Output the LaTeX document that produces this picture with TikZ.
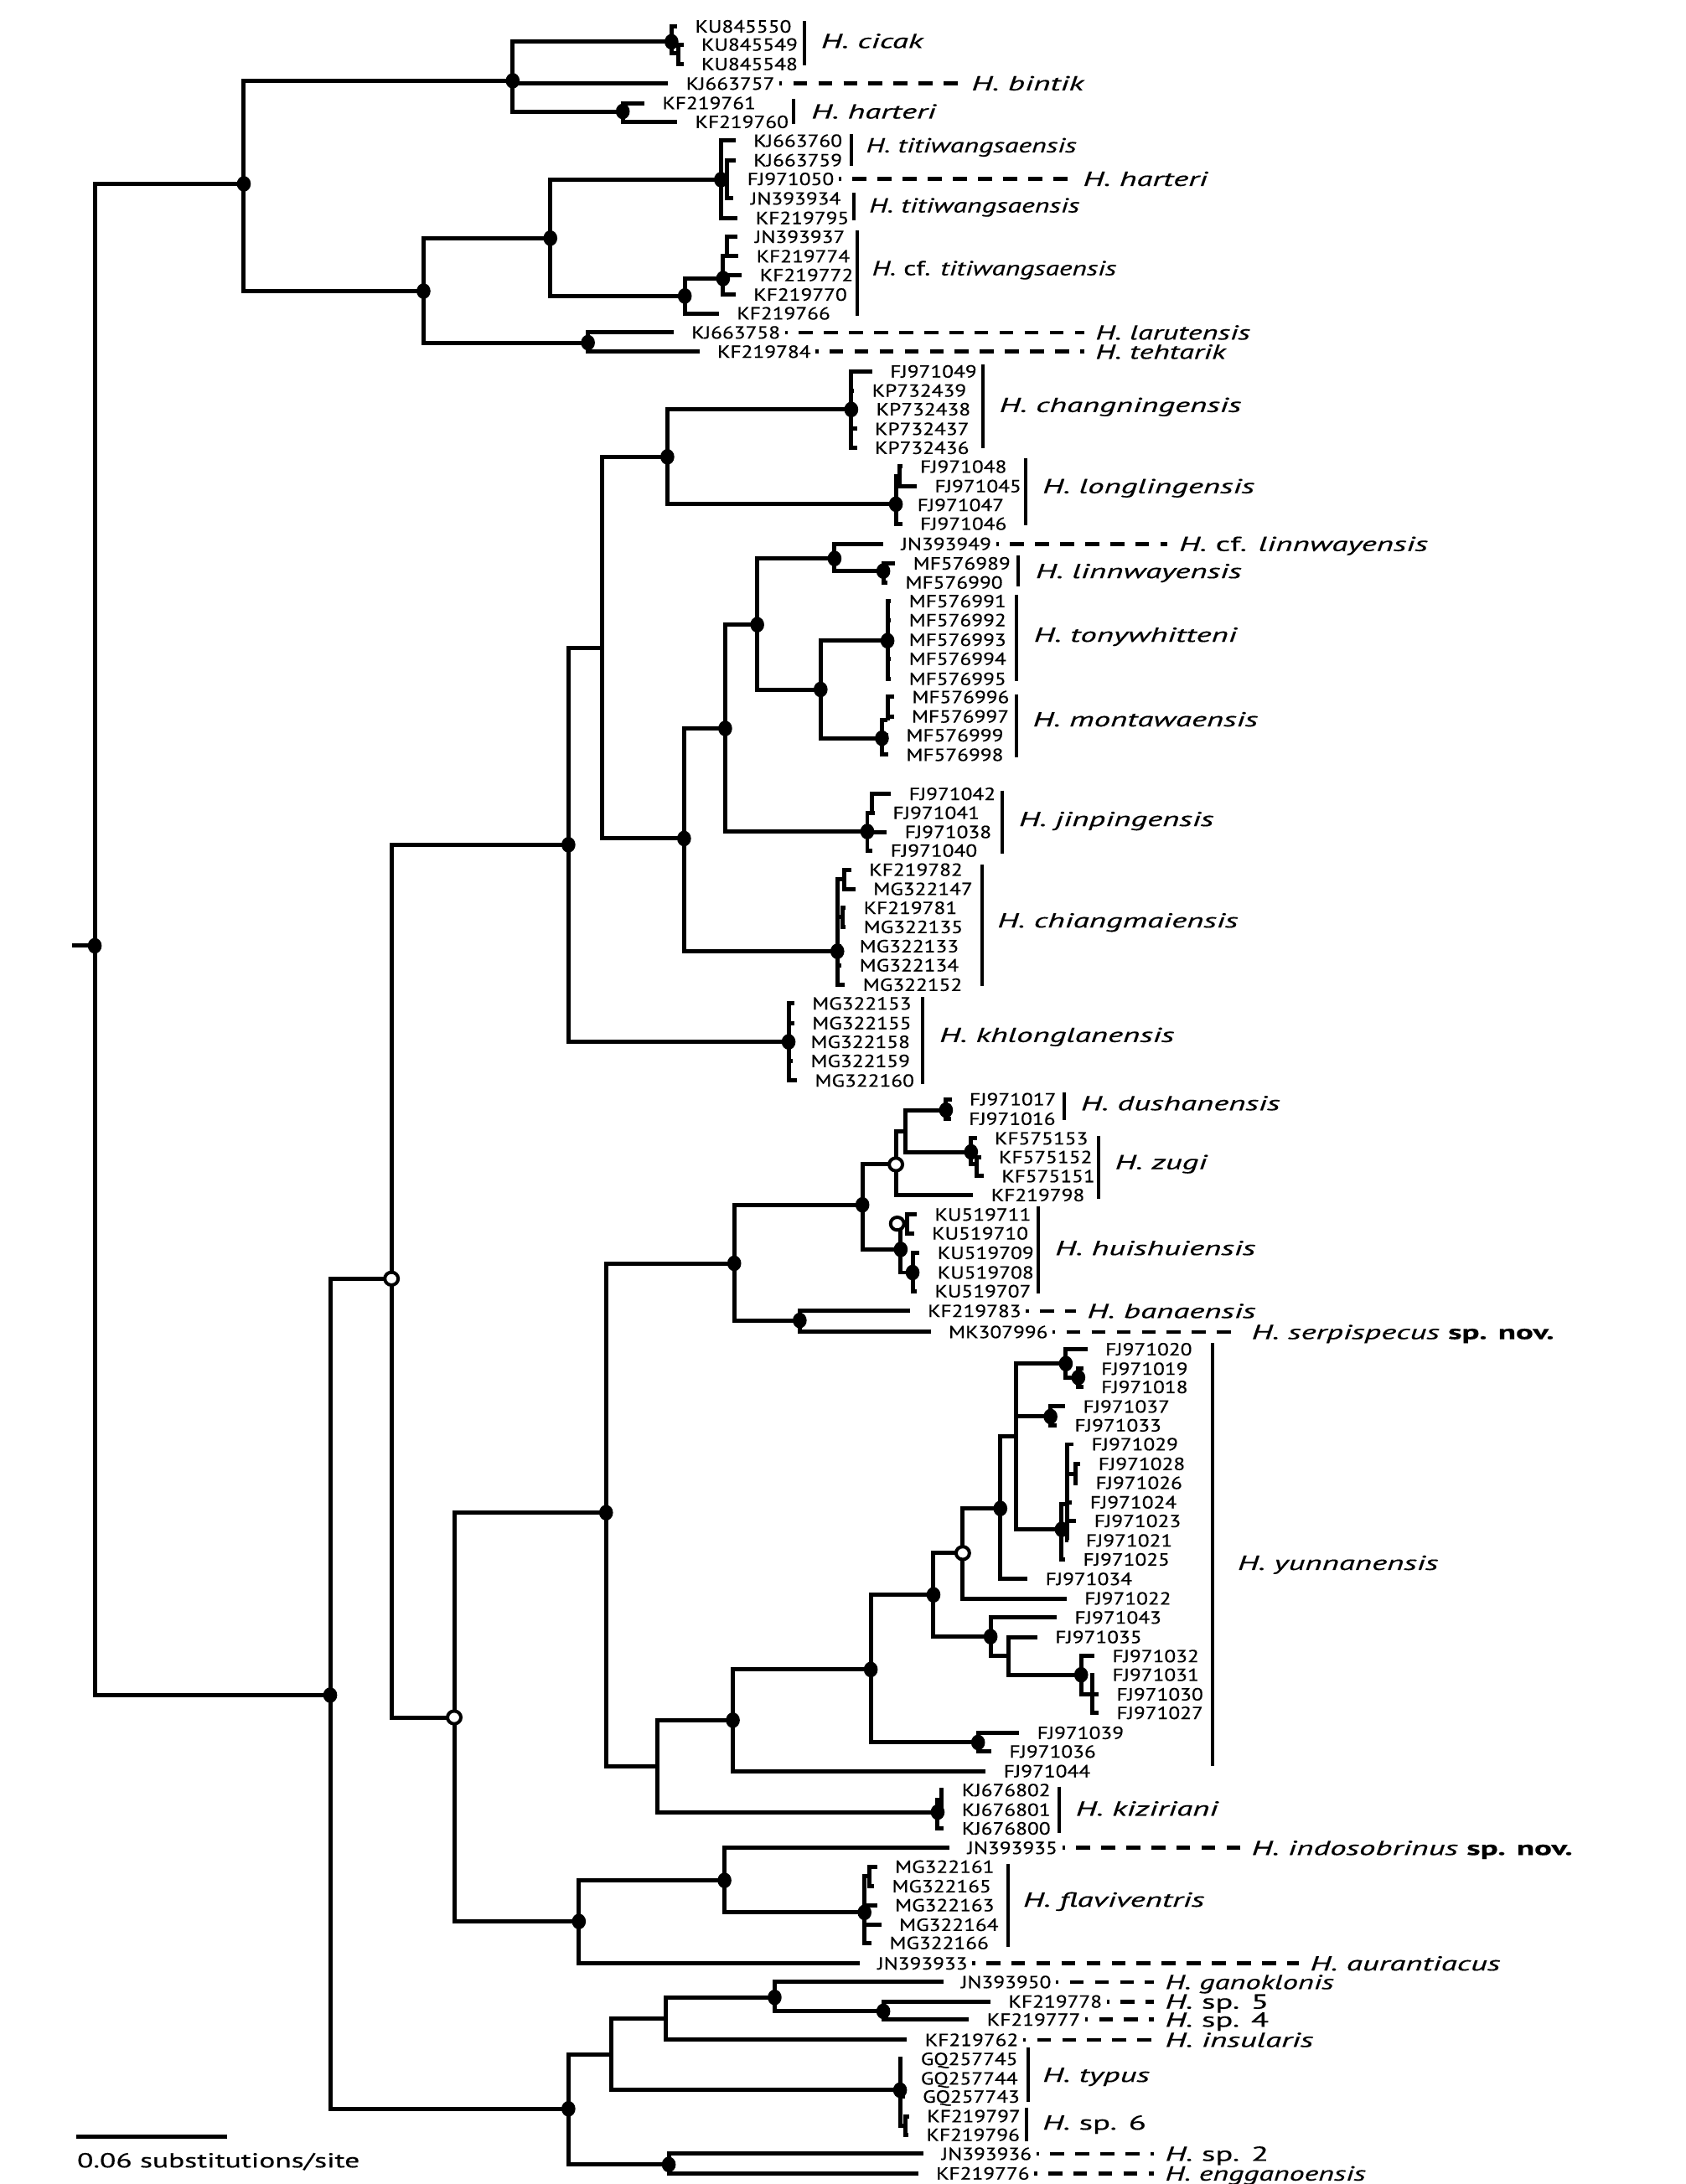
\documentclass[tikz,border=0pt]{standalone}
\usepackage{fontspec}
\usepackage{graphicx}
\setmainfont{PT Sans}[FakeBold=0.4]
\usetikzlibrary{shapes.geometric}
\newcommand\A[1]{\scalebox{1.21}[1]{#1}}
\newcommand\SpN[2][1.6]{\scalebox{#1}[1]{#2}}
\newcommand\leaf[3]{\coordinate (#1) at (#2,#3); \node[acc] (#1-l) at (#2+12.5,#3) {\A{#1}};}
\begin{document}
\begin{tikzpicture}[x=0.5pt,y=-0.5pt,
  br/.style={line width=1.5pt, line join=miter},
  barline/.style={line width=1.2pt},
  dsh/.style={line width=1.4pt, dash pattern=on 5pt off 4pt, dash phase=4pt, shorten <=1.5pt, shorten >=4pt},
  dotf/.style={ellipse, fill=black, inner sep=0pt, minimum width=5pt, minimum height=5.6pt},
  dotw/.style={ellipse, draw=black, fill=white, line width=1.2pt, inner sep=0pt, minimum width=4.8pt, minimum height=4.6pt},
  acc/.style={anchor=base west, inner sep=0pt, yshift=-2.2pt, font=\fontsize{6.3}{7}\selectfont},
  spn/.style={anchor=base west, inner sep=0pt, yshift=-2.55pt, font=\fontsize{7.3}{8}\selectfont}]
\path[fill=white, use as bounding box] (0,0) rectangle (1210,1568);
% internal nodes
\coordinate (R0) at (52,679);
\coordinate (R) at (68,679);
\coordinate (T) at (175,132);
\coordinate (TA) at (368,58);
\coordinate (cic) at (482,30);
\coordinate (cic2) at (487,38);
\coordinate (hart) at (447,80);
\coordinate (TB) at (304,209);
\coordinate (TBa) at (395,171);
\coordinate (tit) at (517.5,129);
\coordinate (tits) at (522,129);
\coordinate (cft) at (491.5,212.5);
\coordinate (cfs) at (519,200);
\coordinate (cfss) at (522,184);
\coordinate (lar) at (422,246);
\coordinate (L) at (237,1217);
\coordinate (M) at (281,918);
\coordinate (N1) at (408,606.5);
\coordinate (N1a) at (432,465);
\coordinate (N1b) at (479,328);
\coordinate (chang) at (611,294);
\coordinate (long) at (643,362);
\coordinate (longs) at (645.5,342);
\coordinate (N1c) at (491,602);
\coordinate (N1d) at (520.5,523);
\coordinate (N1e) at (543.5,448.5);
\coordinate (lin0) at (599,401);
\coordinate (lin) at (634,410);
\coordinate (tm) at (589,495);
\coordinate (ton) at (637,460);
\coordinate (mon) at (633,530);
\coordinate (mons) at (637,517);
\coordinate (jin) at (622.5,597);
\coordinate (jins) at (626,583.6);
\coordinate (chi) at (601,683);
\coordinate (chiA) at (606,631);
\coordinate (chiB) at (605,658);
\coordinate (khl) at (566,748);
\coordinate (N2) at (326,1233);
\coordinate (N3) at (435,1086);
\coordinate (N5) at (527,907);
\coordinate (N7) at (619,865);
\coordinate (zd) at (643,836);
\coordinate (dz) at (650,812);
\coordinate (dush) at (679,797);
\coordinate (zug) at (697,827);
\coordinate (zugs) at (701,836);
\coordinate (hu) at (646.5,897);
\coordinate (hA) at (651,878.5);
\coordinate (hB) at (655,913.6);
\coordinate (ban) at (574,948);
\coordinate (N6) at (472,1268);
\coordinate (N8) at (526,1235);
\coordinate (N9) at (625,1198.6);
\coordinate (N10) at (670,1145);
\coordinate (N12) at (691,1115);
\coordinate (N14) at (718,1083);
\coordinate (N15) at (729,1031);
\coordinate (y1) at (765,979);
\coordinate (y1s) at (774,989);
\coordinate (y2) at (754,1017);
\coordinate (y3) at (762,1098);
\coordinate (y3u) at (766,1080);
\coordinate (y3uu) at (772,1058);
\coordinate (N13) at (711,1175);
\coordinate (N16) at (724,1189);
\coordinate (N17) at (776,1202.4);
\coordinate (N17s) at (784,1216.4);
\coordinate (N11) at (702,1251);
\coordinate (kiz) at (673,1301);
\coordinate (kizs) at (676,1292);
\coordinate (N4) at (415.5,1379.5);
\coordinate (N18) at (520,1350);
\coordinate (fla) at (620.5,1373);
\coordinate (flas) at (624,1347);
\coordinate (B) at (408,1514);
\coordinate (B1) at (439,1475);
\coordinate (B3) at (478,1449);
\coordinate (B4) at (556,1434);
\coordinate (sp45) at (634,1444);
\coordinate (ty) at (646,1500.6);
\coordinate (sp6) at (650,1526);
\coordinate (B2) at (480,1554);
% leaves
\leaf{KU845550}{486}{19}
\leaf{KU845549}{490.5}{32}
\leaf{KU845548}{490.5}{46}
\leaf{KJ663757}{479.5}{60}
\leaf{KF219761}{462.5}{74}
\leaf{KF219760}{486}{87.5}
\leaf{KJ663760}{528}{101}
\leaf{KJ663759}{528}{115}
\leaf{FJ971050}{523.5}{128.5}
\leaf{JN393934}{526}{142.5}
\leaf{KF219795}{529.5}{156.5}
\leaf{JN393937}{529}{170}
\leaf{KF219774}{530}{184}
\leaf{KF219772}{532.5}{197.5}
\leaf{KF219770}{528}{211.5}
\leaf{KF219766}{516}{225}
\leaf{KJ663758}{483.5}{238.7}
\leaf{KF219784}{502}{252.5}
\leaf{FJ971049}{626}{266.7}
\leaf{KP732439}{613}{280.4}
\leaf{KP732438}{616}{293.8}
\leaf{KP732437}{615}{307.9}
\leaf{KP732436}{615}{321.5}
\leaf{FJ971048}{647.5}{335}
\leaf{FJ971045}{658}{349}
\leaf{FJ971047}{645.5}{362.6}
\leaf{FJ971046}{647.5}{376}
\leaf{JN393949}{634}{390.5}
\leaf{MF576989}{642.5}{404.5}
\leaf{MF576990}{637}{418.2}
\leaf{MF576991}{639.5}{431.6}
\leaf{MF576992}{639.5}{445.2}
\leaf{MF576993}{639.5}{459.3}
\leaf{MF576994}{639.5}{473}
\leaf{MF576995}{639.5}{487.4}
\leaf{MF576996}{641.7}{500.4}
\leaf{MF576997}{641.5}{514.4}
\leaf{MF576999}{637.5}{527.9}
\leaf{MF576998}{637.5}{541.9}
\leaf{FJ971042}{639.5}{570}
\leaf{FJ971041}{628}{583.6}
\leaf{FJ971038}{636.5}{597.3}
\leaf{FJ971040}{626.3}{610.7}
\leaf{KF219782}{611}{624.4}
\leaf{MG322147}{614}{638.2}
\leaf{KF219781}{607}{651.8}
\leaf{MG322135}{607}{665.5}
\leaf{MG322133}{604}{679.3}
\leaf{MG322134}{604}{693}
\leaf{MG322152}{606.5}{707}
\leaf{MG322153}{570}{720.4}
\leaf{MG322155}{570}{734.5}
\leaf{MG322158}{569}{748}
\leaf{MG322159}{569}{761.7}
\leaf{MG322160}{572}{775.8}
\leaf{FJ971017}{683}{789.2}
\leaf{FJ971016}{682.5}{803.2}
\leaf{KF575153}{701}{817.3}
\leaf{KF575152}{704}{830.7}
\leaf{KF575151}{706}{844.4}
\leaf{KF219798}{698.5}{858}
\leaf{KU519711}{658}{872}
\leaf{KU519710}{656}{885.5}
\leaf{KU519709}{660}{899.5}
\leaf{KU519708}{660}{913.6}
\leaf{KU519707}{658}{927}
\leaf{KF219783}{653}{941.2}
\leaf{MK307996}{668}{956.3}
\leaf{FJ971020}{780.5}{968.7}
\leaf{FJ971019}{777.5}{982.7}
\leaf{FJ971018}{777.5}{995.8}
\leaf{FJ971037}{764.5}{1009.8}
\leaf{FJ971033}{758.5}{1023.3}
\leaf{FJ971029}{770.5}{1036.9}
\leaf{FJ971028}{775.5}{1051}
\leaf{FJ971026}{773.5}{1064.6}
\leaf{FJ971024}{769.5}{1078.6}
\leaf{FJ971023}{772.5}{1092}
\leaf{FJ971021}{766.5}{1106}
\leaf{FJ971025}{764.5}{1119.6}
\leaf{FJ971034}{737.5}{1133.6}
\leaf{FJ971022}{765.5}{1147.6}
\leaf{FJ971043}{758.5}{1161.3}
\leaf{FJ971035}{744.5}{1175.3}
\leaf{FJ971032}{785.5}{1189}
\leaf{FJ971031}{785.5}{1202.4}
\leaf{FJ971030}{788.5}{1216.4}
\leaf{FJ971027}{788.5}{1229.8}
\leaf{FJ971039}{731.5}{1244.1}
\leaf{FJ971036}{711.5}{1257.5}
\leaf{FJ971044}{707.5}{1271.6}
\leaf{KJ676802}{677.5}{1285.2}
\leaf{KJ676801}{677.5}{1299.3}
\leaf{KJ676800}{677.5}{1312.7}
\leaf{JN393935}{681.5}{1326.7}
\leaf{MG322161}{629.5}{1340.2}
\leaf{MG322165}{627.3}{1354.2}
\leaf{MG322163}{629.5}{1367.8}
\leaf{MG322164}{632.5}{1381.9}
\leaf{MG322166}{625.5}{1394.9}
\leaf{JN393933}{617}{1409.6}
\leaf{JN393950}{677}{1423}
\leaf{KF219778}{711}{1437}
\leaf{KF219777}{695.5}{1450}
\leaf{KF219762}{651}{1464.5}
\leaf{GQ257745}{648}{1478.2}
\leaf{GQ257744}{648}{1492.2}
\leaf{GQ257743}{649.4}{1505.2}
\leaf{KF219797}{652.5}{1519.3}
\leaf{KF219796}{652}{1532.7}
\leaf{JN393936}{663}{1546.3}
\leaf{KF219776}{659}{1560.4}
% branches
\draw[br] (R0) -- (R);
\foreach \p/\c in {R/T,R/L,T/TA,T/TB,TA/cic,TA/KJ663757,TA/hart,
 cic/KU845550,cic/cic2,cic2/KU845549,cic2/KU845548,hart/KF219761,hart/KF219760,
 TB/TBa,TB/lar,TBa/tit,TBa/cft,tit/KJ663760,tit/tits,tit/KF219795,
 tits/KJ663759,tits/FJ971050,tits/JN393934,cft/cfs,cft/KF219766,
 cfs/cfss,cfs/KF219772,cfs/KF219770,cfss/JN393937,cfss/KF219774,
 lar/KJ663758,lar/KF219784,L/M,L/B,M/N1,M/N2,N1/N1a,N1/khl,N1a/N1b,N1a/N1c,
 N1b/chang,N1b/long,chang/FJ971049,chang/KP732439,chang/KP732438,chang/KP732437,chang/KP732436,
 long/longs,long/FJ971047,long/FJ971046,longs/FJ971048,longs/FJ971045,
 N1c/N1d,N1c/chi,N1d/N1e,N1d/jin,N1e/lin0,N1e/tm,lin0/JN393949,lin0/lin,
 lin/MF576989,lin/MF576990,tm/ton,tm/mon,
 ton/MF576991,ton/MF576992,ton/MF576993,ton/MF576994,ton/MF576995,
 mon/mons,mon/MF576999,mon/MF576998,mons/MF576996,mons/MF576997,
 jin/jins,jin/FJ971038,jin/FJ971040,jins/FJ971042,jins/FJ971041,
 chi/chiA,chi/chiB,chi/MG322133,chi/MG322134,chi/MG322152,
 chiA/KF219782,chiA/MG322147,chiB/KF219781,chiB/MG322135,
 khl/MG322153,khl/MG322155,khl/MG322158,khl/MG322159,khl/MG322160,
 N2/N3,N2/N4,N3/N5,N3/N6,N5/N7,N5/ban,N7/zd,N7/hu,zd/dz,zd/KF219798,
 dz/dush,dz/zug,dush/FJ971017,dush/FJ971016,zug/KF575153,zug/zugs,
 zugs/KF575152,zugs/KF575151,hu/hA,hu/hB,hA/KU519711,hA/KU519710,
 hB/KU519709,hB/KU519708,hB/KU519707,ban/KF219783,ban/MK307996,
 N6/N8,N6/kiz,N8/N9,N8/FJ971044,N9/N10,N9/N11,N10/N12,N10/N13,
 N12/N14,N12/FJ971022,N14/N15,N14/FJ971034,N15/y1,N15/y2,N15/y3,
 y1/FJ971020,y1/y1s,y1s/FJ971019,y1s/FJ971018,y2/FJ971037,y2/FJ971033,
 y3/y3u,y3/FJ971025,y3u/FJ971029,y3u/y3uu,y3u/FJ971024,y3u/FJ971023,y3u/FJ971021,
 y3uu/FJ971028,y3uu/FJ971026,N13/FJ971043,N13/N16,N16/FJ971035,N16/N17,
 N17/FJ971032,N17/N17s,N17s/FJ971031,N17s/FJ971030,N17s/FJ971027,
 N11/FJ971039,N11/FJ971036,kiz/kizs,kiz/KJ676800,kizs/KJ676802,kizs/KJ676801,
 N4/N18,N4/JN393933,N18/JN393935,N18/fla,
 fla/flas,fla/MG322163,fla/MG322164,fla/MG322166,flas/MG322161,flas/MG322165,
 B/B1,B/B2,B1/B3,B1/ty,B3/B4,B3/KF219762,B4/JN393950,B4/sp45,
 sp45/KF219778,sp45/KF219777,ty/GQ257745,ty/GQ257744,ty/GQ257743,ty/sp6,
 sp6/KF219797,sp6/KF219796,B2/JN393936,B2/KF219776}
  \draw[br] (\p) |- (\c);
% support dots
\foreach \n in {R,T,TA,cic,hart,TB,TBa,tit,cft,cfs,lar,L,N1,N1b,chang,long,N1c,N1d,N1e,
 lin0,lin,tm,ton,mon,jin,chi,khl,N3,N5,N7,dush,zug,hu,hB,ban,N8,N9,N10,N14,
 y1,y1s,y2,y3,N13,N17,N11,kiz,N4,N18,fla,B,B4,sp45,ty,B2}
  \node[dotf] (\n-d) at (\n) {};
\foreach \n in {M,N2,zd,N12}
  \node[dotw] (\n-o) at (\n) {};
\node[dotw] (hA-o) at (644,878.5) {};
% species bars
\draw[barline] (577.4,15) -- (577.4,47);
\draw[barline] (569.8,71) -- (569.8,89);
\draw[barline] (611,96) -- (611,119);
\draw[barline] (612.7,138.5) -- (612.7,158);
\draw[barline] (615,165.5) -- (615,227);
\draw[barline] (705.5,261.7) -- (705.5,322);
\draw[barline] (736,329) -- (736,377);
\draw[barline] (731,399) -- (731,421);
\draw[barline] (729.4,427) -- (729.4,489);
\draw[barline] (729.4,498.4) -- (729.4,543.5);
\draw[barline] (719.6,567.5) -- (719.6,612.6);
\draw[barline] (705,620.7) -- (705,708);
\draw[barline] (662,716) -- (662,778);
\draw[barline] (764,784) -- (764,804);
\draw[barline] (788.4,815.3) -- (788.4,860.4);
\draw[barline] (745.4,866) -- (745.4,928.6);
\draw[barline] (870,964) -- (870,1268);
\draw[barline] (760,1282.6) -- (760,1316);
\draw[barline] (723.3,1338) -- (723.3,1398);
\draw[barline] (738,1470) -- (738,1509.2);
\draw[barline] (737,1513) -- (737,1537.3);
% species names
\node[spn] (s-cicak) at (589,29.4) {\SpN{\itshape H. cicak}};
\node[spn] (s-bintik) at (697,59.8) {\SpN{\itshape H. bintik}};
\node[spn] (s-harteriA) at (582,80) {\SpN{\itshape H. harteri}};
\node[spn] (s-tit1) at (621.3,104.3) {\SpN[1.4]{\itshape H. titiwangsaensis}};
\node[spn] (s-harteriB) at (777,128.4) {\SpN{\itshape H. harteri}};
\node[spn] (s-tit2) at (623.5,147.4) {\SpN[1.4]{\itshape H. titiwangsaensis}};
\node[spn] (s-cftit) at (625.6,192.5) {\SpN[1.38]{\textit{H.} cf. \textit{titiwangsaensis}}};
\node[spn] (s-larut) at (786,238.7) {\SpN[1.5]{\itshape H. larutensis}};
\node[spn] (s-teht) at (786,252.5) {\SpN[1.5]{\itshape H. tehtarik}};
\node[spn] (s-chang) at (717,290.7) {\SpN{\itshape H. changningensis}};
\node[spn] (s-long) at (748,349) {\SpN{\itshape H. longlingensis}};
\node[spn] (s-cflinn) at (846,390.5) {\SpN{\textit{H.} cf. \textit{linnwayensis}}};
\node[spn] (s-linn) at (743,410) {\SpN{\itshape H. linnwayensis}};
\node[spn] (s-tony) at (741.7,455.7) {\SpN{\itshape H. tonywhitteni}};
\node[spn] (s-mont) at (741,516.4) {\SpN{\itshape H. montawaensis}};
\node[spn] (s-jinp) at (731,588) {\SpN{\itshape H. jinpingensis}};
\node[spn] (s-chiang) at (715.6,660.8) {\SpN{\itshape H. chiangmaiensis}};
\node[spn] (s-khlong) at (674,743) {\SpN{\itshape H. khlonglanensis}};
\node[spn] (s-dush) at (775.5,792) {\SpN{\itshape H. dushanensis}};
\node[spn] (s-zugi) at (800,834.3) {\SpN{\itshape H. zugi}};
\node[spn] (s-huis) at (757,896) {\SpN{\itshape H. huishuiensis}};
\node[spn] (s-bana) at (780,941.2) {\SpN{\itshape H. banaensis}};
\node[spn] (s-serp) at (898,956.3) {\SpN{\textit{H. serpispecus} \textbf{sp. nov.}}};
\node[spn] (s-yunn) at (888,1122) {\SpN{\itshape H. yunnanensis}};
\node[spn] (s-kiz) at (771.8,1298.4) {\SpN{\itshape H. kiziriani}};
\node[spn] (s-indo) at (898,1326.7) {\SpN{\textit{H. indosobrinus} \textbf{sp. nov.}}};
\node[spn] (s-flav) at (734,1363.8) {\SpN{\itshape H. flaviventris}};
\node[spn] (s-aur) at (940,1409.6) {\SpN{\itshape H. aurantiacus}};
\node[spn] (s-gano) at (836,1423) {\SpN[1.5]{\itshape H. ganoklonis}};
\node[spn] (s-sp5) at (836,1437) {\SpN{\textit{H.} sp. 5}};
\node[spn] (s-sp4) at (836,1450) {\SpN{\textit{H.} sp. 4}};
\node[spn] (s-insul) at (836,1464.5) {\SpN{\itshape H. insularis}};
\node[spn] (s-typus) at (748,1489.6) {\SpN{\itshape H. typus}};
\node[spn] (s-sp6) at (748,1523.9) {\SpN{\textit{H.} sp. 6}};
\node[spn] (s-sp2) at (836,1546.3) {\SpN{\textit{H.} sp. 2}};
\node[spn] (s-engg) at (836,1560.4) {\SpN[1.48]{\itshape H. engganoensis}};
% dashed connectors
\foreach \a/\b in {KJ663757/bintik,FJ971050/harteriB,KJ663758/larut,KF219784/teht,
 JN393949/cflinn,KF219783/bana,MK307996/serp,JN393935/indo,JN393933/aur,
 JN393950/gano,KF219778/sp5,KF219777/sp4,KF219762/insul,JN393936/sp2,KF219776/engg}
  \draw[dsh] (\a-l.east) -- (s-\b.west |- \a-l.east);
% scale bar
\coordinate (sbA) at (55,1534);
\coordinate (sbB) at (163,1534);
\draw[br] (sbA) -- (sbB);
\node[spn] (sbt) at (55,1551) {\scalebox{1.46}[1]{0.06 substitutions/site}};
\end{tikzpicture}
\end{document}
